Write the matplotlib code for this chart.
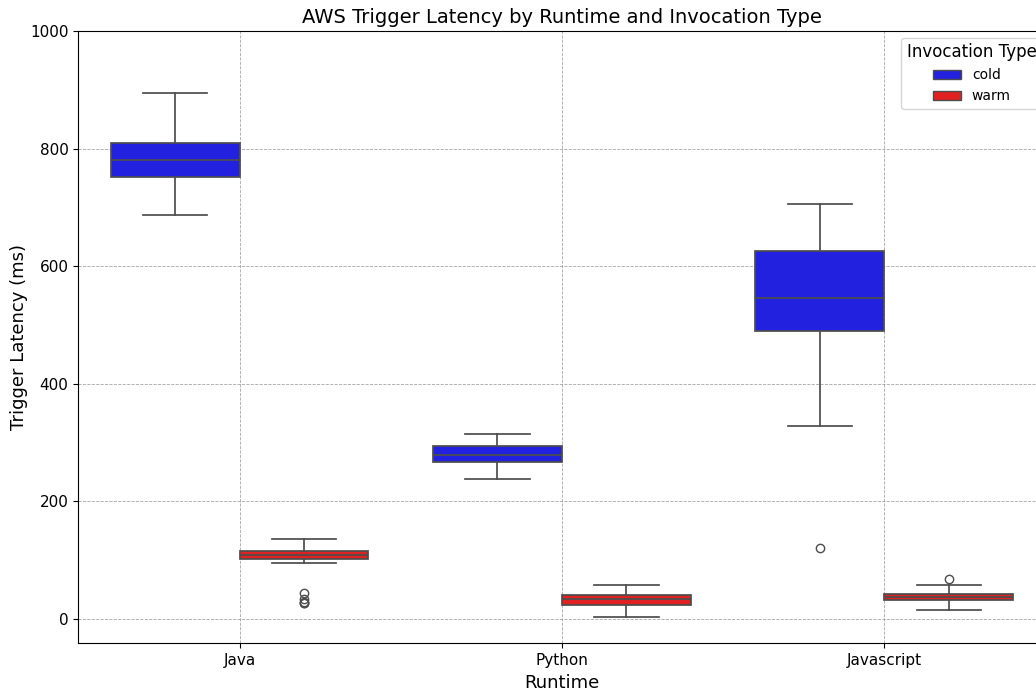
import matplotlib
matplotlib.use("Agg")
import matplotlib.pyplot as plt
from matplotlib.patches import Patch

# Box statistics (ms)
runtimes = ["Java", "Python", "Javascript"]
invocation_types = ["cold", "warm"]
type_colors = {"cold": "#2121df", "warm": "#df2121"}

cold_whislo = [687, 237, 328]
cold_q1 = [752, 266, 490]
cold_med = [780, 279, 546]
cold_q3 = [810, 293, 626]
cold_whishi = [894, 314, 706]
cold_fliers = [[], [], [120]]

warm_whislo = [95, 2, 14]
warm_q1 = [101, 24, 31]
warm_med = [108, 33, 36]
warm_q3 = [115, 40, 42]
warm_whishi = [135, 58, 58]
warm_fliers = [[43, 33, 29, 27, 26], [], [68]]

stats = {
    "cold": (cold_whislo, cold_q1, cold_med, cold_q3, cold_whishi, cold_fliers),
    "warm": (warm_whislo, warm_q1, warm_med, warm_q3, warm_whishi, warm_fliers),
}

fig = plt.figure(figsize=(10.36, 6.9), dpi=100)
# axes runs a little past the right edge of the figure, as in the reference
ax = fig.add_axes([0.0756, 0.0677, 0.9336, 0.8874])

line_col = "#4d4d4d"
box_w = 0.4
for k, t in enumerate(invocation_types):
    lo, q1, med, q3, hi, fl = stats[t]
    bxp_stats = []
    for i in range(len(runtimes)):
        bxp_stats.append({"whislo": lo[i], "q1": q1[i], "med": med[i],
                          "q3": q3[i], "whishi": hi[i], "fliers": fl[i]})
    pos = [i - 0.2 + k * box_w for i in range(len(runtimes))]
    ax.bxp(bxp_stats, positions=pos, widths=box_w, patch_artist=True,
           manage_ticks=False,
           boxprops=dict(facecolor=type_colors[t], edgecolor=line_col, linewidth=1.25),
           medianprops=dict(color=line_col, linewidth=1.25),
           whiskerprops=dict(color=line_col, linewidth=1.25),
           capprops=dict(color=line_col, linewidth=1.25),
           flierprops=dict(marker="o", markerfacecolor="none",
                           markeredgecolor=line_col, markersize=6, linewidth=0))

ax.set_xticks(range(len(runtimes)))
ax.set_xticklabels(runtimes, fontsize=11)
ax.set_xlim(-0.5, 2.5)
ax.set_ylim(-42, 1000)
ax.set_yticks([0, 200, 400, 600, 800, 1000])
ax.tick_params(axis="y", labelsize=11)
ax.grid(True, linestyle="--", color="gray", alpha=0.7, linewidth=0.6)
ax.set_axisbelow(True)

ax.set_title("AWS Trigger Latency by Runtime and Invocation Type", fontsize=14)
ax.set_xlabel("Runtime", fontsize=13)
ax.set_ylabel("Trigger Latency (ms)", fontsize=13, labelpad=1.5)

handles = [Patch(facecolor=type_colors[t], edgecolor=line_col, label=t) for t in invocation_types]
ax.legend(handles=handles, title="Invocation Type", loc="upper right",
          bbox_to_anchor=(1.004, 1.0), fontsize=10, title_fontsize=12)

fig.savefig("out.png", dpi=100)
